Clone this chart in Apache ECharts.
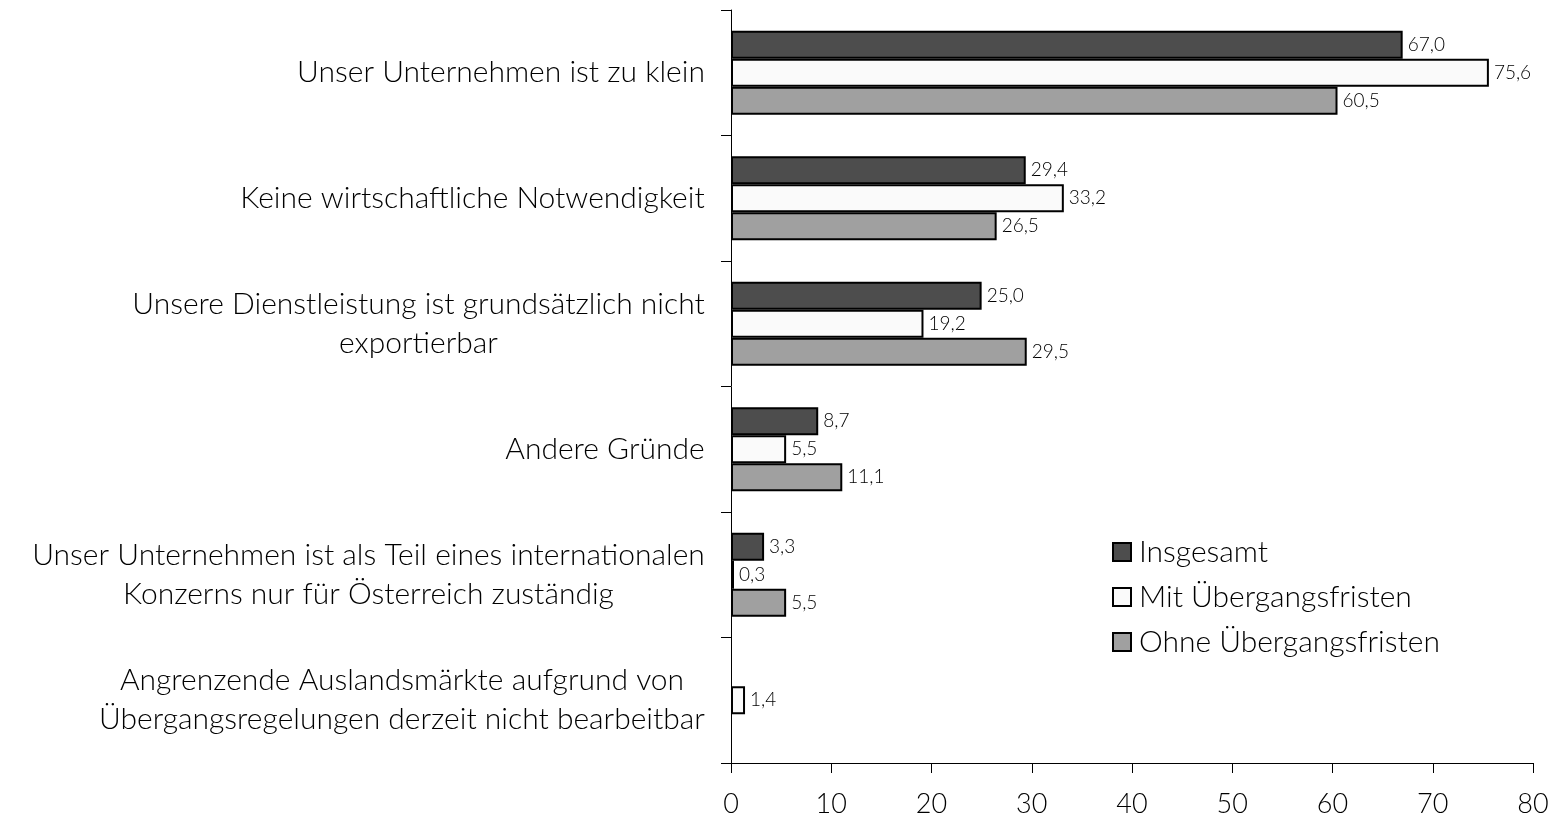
<!DOCTYPE html>
<html>
<head>
<meta charset="utf-8">
<script src="https://cdn.jsdelivr.net/npm/echarts@6/dist/echarts.min.js"></script>
<style>html,body{margin:0;padding:0;background:#fff}#c{width:1552px;height:820px}</style>
</head>
<body>
<div id="c"></div>
<script>
var categories = [
  "Unser Unternehmen ist zu klein",
  "Keine wirtschaftliche Notwendigkeit",
  "Unsere Dienstleistung ist grundsätzlich nicht\nexportierbar",
  "Andere Gründe",
  "Unser Unternehmen ist als Teil eines internationalen\nKonzerns nur für Österreich zuständig",
  "Angrenzende Auslandsmärkte aufgrund von\nÜbergangsregelungen derzeit nicht bearbeitbar"
];
var seriesNames = ["Insgesamt", "Mit Übergangsfristen", "Ohne Übergangsfristen"];
var insgesamt = [67.0, 29.4, 25.0, 8.7, 3.3, null];
var mitFristen = [75.6, 33.2, 19.2, 5.5, 0.3, 1.4];
var ohneFristen = [60.5, 26.5, 29.5, 11.1, 5.5, null];
var xTicks = [0, 10, 20, 30, 40, 50, 60, 70, 80];

var FONT = "Lato";
var W = 300;
var CAT_SIZE = 30;
var cv = document.createElement('canvas').getContext('2d');
cv.font = W + " " + CAT_SIZE + "px " + FONT;
var rich = {};
categories.forEach(function (c, i) {
  var w = 0;
  c.split('\n').forEach(function (l) { w = Math.max(w, cv.measureText(l).width); });
  rich['c' + i] = { width: Math.ceil(w) + 2, align: 'center', fontSize: CAT_SIZE, fontWeight: W, fontFamily: FONT, color: '#000', lineHeight: 39 };
});

var colors = ['#4d4d4d', '#fafafa', '#a0a0a0'];
var datas = [insgesamt, mitFristen, ohneFristen];
var chart = echarts.init(document.getElementById('c'));
chart.setOption({
  animation: false,
  backgroundColor: '#fff',
  grid: { left: 731, right: 19, top: 10, bottom: 57, containLabel: false },
  legend: {
    orient: 'vertical',
    left: 1107,
    top: 532,
    itemWidth: 18,
    itemHeight: 18,
    itemGap: 15,
    icon: 'rect',
    textStyle: { fontSize: 30, fontWeight: W, fontFamily: FONT, color: '#000', padding: [0, 0, 0, 3] },
    data: seriesNames
  },
  xAxis: {
    type: 'value',
    min: 0, max: 80, interval: 10,
    axisLine: { show: true, lineStyle: { color: '#000', width: 1 } },
    axisTick: { show: true, length: 10, lineStyle: { color: '#000' } },
    splitLine: { show: false },
    axisLabel: { fontSize: 27, fontWeight: W, fontFamily: FONT, color: '#000', margin: 28,
      formatter: function (v) { return xTicks.indexOf(v) >= 0 ? String(v) : ''; } }
  },
  yAxis: {
    type: 'category',
    inverse: true,
    data: categories,
    axisLine: { show: true, lineStyle: { color: '#000', width: 1 } },
    axisTick: { show: true, length: 10, alignWithLabel: false, lineStyle: { color: '#000' } },
    axisLabel: {
      margin: 25,
      formatter: function (v, i) {
        return v.split('\n').map(function (l) { return '{c' + i + '|' + l + '}'; }).join('\n');
      },
      rich: rich
    }
  },
  series: seriesNames.map(function (n, k) {
    return {
      name: n,
      type: 'bar',
      data: datas[k],
      barWidth: 28,
      barGap: '0%',
      itemStyle: { color: colors[k], borderColor: '#000', borderWidth: 2 },
      label: {
        show: true, position: 'right', distance: 5,
        fontSize: 19, fontWeight: W, fontFamily: FONT, color: '#000',
        formatter: function (p) { return p.value == null ? '' : p.value.toFixed(1).replace('.', ','); }
      }
    };
  })
});
</script>
</body>
</html>
